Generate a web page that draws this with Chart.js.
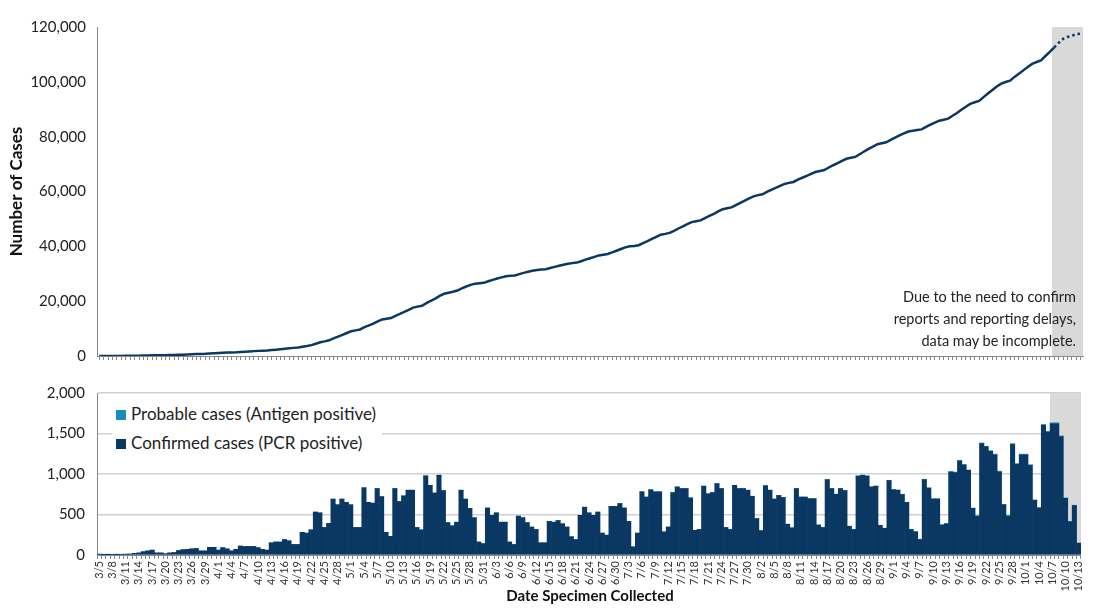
<!DOCTYPE html>
<html>
<head>
<meta charset="utf-8">
<script src="https://cdn.jsdelivr.net/npm/chart.js@4"></script>
<style>
    body { margin: 0; background: #fff; width: 1094px; height: 608px; position: relative; overflow: hidden; font-family: Lato, "Open Sans", sans-serif; }
    canvas { position: absolute; left: 0; }
    #graficoAcumulado { top: 0; }
    #graficoDiario { top: 372px; }
    .legenda { position: absolute; left: 112px; top: 397px; background: #fff; padding: 2px 6px 2px 4px; font-size: 17px; color: #222; line-height: 29px; }
    .legenda span { display: inline-block; width: 10px; height: 10px; margin-right: 5px; }
    .nota { position: absolute; right: 18px; top: 286px; text-align: right; font-size: 14.5px; line-height: 22px; color: #222; }
    .tituloX { position: absolute; left: 97px; width: 986px; top: 586px; text-align: center; font-weight: bold; font-size: 15px; color: #111; }
</style>
</head>
<body>
<canvas id="graficoAcumulado" width="1094" height="372"></canvas>
<canvas id="graficoDiario" width="1094" height="236"></canvas>
<div class="legenda">
    <div><span style="background:#1a8cbc"></span>Probable cases (Antigen positive)</div>
    <div><span style="background:#0b3763"></span>Confirmed cases (PCR positive)</div>
</div>
<div class="nota">Due to the need to confirm<br>reports and reporting delays,<br>data may be incomplete.</div>
<div class="tituloX">Date Specimen Collected</div>
<script>
// categorias: 3/5 ate 10/13
var diasPorMes = [[3, 5, 31], [4, 1, 30], [5, 1, 31], [6, 1, 30], [7, 1, 31], [8, 1, 31], [9, 1, 30], [10, 1, 13]];
var datas = [];
diasPorMes.forEach(function (m) {
    for (var d = m[1]; d <= m[2]; d++) datas.push(m[0] + '/' + d);
});

var confirmadosMar = [10, 5, 3, 8, 3, 8, 10, 12, 20, 25, 40, 50, 60, 25, 25, 15, 25, 30, 55, 65, 70, 75, 80, 50, 50, 95, 95];
var confirmadosAbr = [60, 90, 75, 50, 70, 110, 105, 105, 105, 90, 70, 60, 150, 160, 160, 190, 175, 130, 130, 280, 270, 310, 530, 520, 340, 390, 690, 620, 690, 650];
var confirmadosMai = [620, 340, 340, 830, 650, 640, 820, 720, 280, 230, 820, 660, 730, 800, 800, 340, 310, 977, 860, 765, 985, 795, 400, 360, 405, 800, 690, 575, 460, 160, 140];
var confirmadosJun = [580, 490, 520, 405, 405, 160, 130, 480, 460, 400, 345, 315, 150, 150, 415, 405, 425, 385, 345, 225, 190, 490, 590, 520, 490, 530, 270, 245, 600, 600];
var confirmadosJul = [635, 580, 415, 100, 270, 780, 715, 805, 780, 780, 285, 345, 770, 840, 820, 820, 705, 305, 315, 850, 755, 770, 880, 820, 340, 315, 860, 820, 820, 800, 725];
var confirmadosAgo = [450, 300, 855, 800, 690, 735, 710, 380, 335, 820, 715, 715, 695, 695, 370, 340, 930, 820, 750, 820, 795, 355, 315, 975, 985, 975, 840, 850, 365, 330, 920];
var confirmadosSet = [805, 800, 745, 650, 315, 285, 190, 930, 825, 690, 690, 370, 385, 1025, 1015, 1160, 1110, 1045, 575, 480, 1375, 1335, 1280, 1235, 1025, 620, 480, 1365, 1120, 1235];
var confirmadosOut = [1235, 1105, 675, 580, 1600, 1515, 1620, 1620, 1460, 700, 410, 610, 145];
var confirmados = [].concat(confirmadosMar, confirmadosAbr, confirmadosMai, confirmadosJun, confirmadosJul, confirmadosAgo, confirmadosSet, confirmadosOut);

// provaveis (antigeno): so aparecem no fim da serie
var provaveisFim = [3, 3, 5, 0, 0, 5, 5, 3, 5, 5, 5, 3, 3, 5, 8, 8, 8, 5, 5, 3, 8, 8, 8, 10, 10, 5, 5, 10, 8, 10, 10, 10, 5, 5, 12, 12, 12, 12, 10, 5, 5, 5, 3];
var provaveis = datas.map(function (d, i) {
    var k = i - (datas.length - provaveisFim.length);
    return k >= 0 ? provaveisFim[k] : 0;
});

// total acumulado = soma dos casos diarios
var acumulado = [];
confirmados.reduce(function (soma, v, i) {
    soma += v + provaveis[i];
    acumulado.push(soma);
    return soma;
}, 0);

var ticksY1 = [0, 20000, 40000, 60000, 80000, 100000, 120000];
var ticksY2 = [0, 500, 1000, 1500, 2000];
var inicioIncompleto = datas.indexOf('10/7');

var corEscura = '#0b3763';
var fonte = 'Lato, "Open Sans", sans-serif';

var sombraIncompleto = {
    id: 'sombraIncompleto',
    beforeDatasetsDraw: function (chart) {
        var x = chart.scales.x, area = chart.chartArea, ctx = chart.ctx;
        var passo = x.getPixelForValue(1) - x.getPixelForValue(0);
        var x0 = x.getPixelForValue(inicioIncompleto) - passo / 2;
        ctx.save();
        ctx.fillStyle = '#d9d9d9';
        ctx.fillRect(x0, area.top, area.right - x0, area.bottom - area.top);
        ctx.restore();
    }
};

function larguraY(scale) { scale.width = 97; }

new Chart(document.getElementById('graficoAcumulado').getContext('2d'), {
    type: 'line',
    data: {
        labels: datas,
        datasets: [{
            data: acumulado,
            borderColor: corEscura,
            borderWidth: 2.5,
            pointRadius: 0,
            tension: 0,
            segment: {
                borderDash: function (c) { return c.p0DataIndex >= inicioIncompleto ? [2.5, 3] : undefined; }
            }
        }]
    },
    options: {
        responsive: false,
        animation: false,
        layout: { padding: { top: 27, right: 11, left: 6 } },
        plugins: { legend: { display: false }, tooltip: { enabled: false } },
        scales: {
            x: {
                offset: true,
                afterFit: function (s) { s.height = 16; },
                grid: { drawOnChartArea: false, color: '#888', tickLength: 4 },
                border: { color: '#888' },
                ticks: { autoSkip: false, display: false }
            },
            y: {
                min: 0, max: 120000,
                afterFit: function (s) { s.width = 91; },
                afterBuildTicks: function (s) { s.ticks = ticksY1.map(function (v) { return { value: v }; }); },
                grid: { display: false },
                border: { color: '#888' },
                title: { display: true, text: 'Number of Cases', font: { family: fonte, size: 17, weight: 'bold' }, color: '#111', padding: 0 },
                ticks: { font: { family: fonte, size: 15 }, color: '#222', callback: function (v) { return v.toLocaleString('en-US'); } }
            }
        }
    },
    plugins: [sombraIncompleto]
});

new Chart(document.getElementById('graficoDiario').getContext('2d'), {
    type: 'bar',
    data: {
        labels: datas,
        datasets: [
            { label: 'Confirmed cases (PCR positive)', data: confirmados, backgroundColor: corEscura, barPercentage: 1, categoryPercentage: 1, borderWidth: 0 },
            { label: 'Probable cases (Antigen positive)', data: provaveis, backgroundColor: '#1a8cbc', barPercentage: 1, categoryPercentage: 1, borderWidth: 0 }
        ]
    },
    options: {
        responsive: false,
        animation: false,
        layout: { padding: { top: 18, right: 11 } },
        plugins: { legend: { display: false }, tooltip: { enabled: false } },
        scales: {
            x: {
                stacked: true,
                offset: true,
                afterFit: function (s) { s.height = 53; },
                grid: { drawOnChartArea: false, color: '#888', tickLength: 4 },
                border: { color: '#888' },
                ticks: {
                    autoSkip: false, maxRotation: 90, minRotation: 90, padding: 2,
                    font: { family: fonte, size: 11 }, color: '#333',
                    callback: function (v, i) { return i % 3 === 0 ? datas[i] : ''; }
                }
            },
            y: {
                stacked: true,
                min: 0, max: 2000,
                afterFit: larguraY,
                afterBuildTicks: function (s) { s.ticks = ticksY2.map(function (v) { return { value: v }; }); },
                grid: { color: '#d0d0d0', lineWidth: 1.5, drawTicks: false },
                border: { color: '#888' },
                ticks: { padding: 12, font: { family: fonte, size: 15 }, color: '#222', callback: function (v) { return v.toLocaleString('en-US'); } }
            }
        }
    },
    plugins: [sombraIncompleto]
});
</script>
</body>
</html>
